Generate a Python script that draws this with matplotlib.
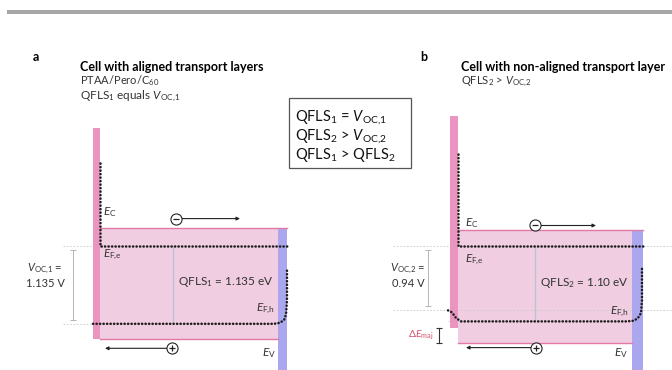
import matplotlib
matplotlib.use("Agg")
import matplotlib.pyplot as plt
from matplotlib.patches import Rectangle

plt.rcParams['font.family'] = ['Lato', 'DejaVu Sans']
plt.rcParams['mathtext.fontset'] = 'custom'
plt.rcParams['mathtext.rm'] = 'Lato'
plt.rcParams['mathtext.it'] = 'Lato:italic'
plt.rcParams['mathtext.bf'] = 'Lato:bold'

W, H = 672, 370
PX_PER_EV = 69.0      # vertical scale of the band diagrams
EFE_PX = 245.5        # pixel row of the electron quasi-Fermi level

# energies in eV, relative to the electron quasi-Fermi level E_F,e
# panel a: PTAA/Pero/C60 (aligned)
a_htl_x = [93, 100]
a_pero_x = [100, 278]
a_etl_x = [278, 287]
a_htl_top, a_htl_bot = 1.71, -1.36
a_ec, a_ev = 0.26, -1.36
a_etl_bot = -1.80
a_qfls = 1.135
a_voc = 1.135
a_efe_x = [100, 100, 287]
a_efe_e = [1.20, 0.0, 0.0]
a_efh_x = [93, 274, 280, 284, 286, 287, 287]
a_efh_e = [-1.135, -1.135, -1.12, -1.08, -1.00, -0.80, -0.35]

# panel b: non-aligned transport layer
b_htl_x = [450, 458]
b_pero_x = [458, 632]
b_etl_x = [632, 643]
b_htl_top, b_htl_bot = 1.88, -1.20
b_ec, b_ev = 0.22, -1.41
b_etl_bot = -1.80
b_qfls = 1.10
b_voc = 0.94
b_efe_x = [458, 458, 643]
b_efe_e = [1.33, 0.0, 0.0]
b_efh_x = [448, 452, 456, 461, 627, 634, 638, 641, 642, 642]
b_efh_e = [-0.94, -0.97, -1.05, -1.10, -1.10, -1.09, -1.05, -0.98, -0.80, -0.33]

box_lines = [r'QFLS$_1$ = $V_{\rm OC{,}1}$',
             r'QFLS$_2$ > $V_{\rm OC{,}2}$',
             r'QFLS$_1$ > QFLS$_2$']

HTL_C = '#ea95bf'
PERO_C = '#f0cde0'
BAND_C = '#e27aa9'
ETL_C = '#aaa7ee'
DOT = dict(color='#1c1c1c', lw=1.8, linestyle=(0, (0.1, 1.3)),
           dash_capstyle='round', solid_capstyle='round')
GREY = '#c8c8c8'


def fx(x):
    return x / W


def fy(y):
    return 1 - y / H


fig = plt.figure(figsize=(W / 100, H / 100), dpi=100)
ax = fig.add_axes([0, 0, 1, 1])
ax.set_xlim(0, W)
ax.set_ylim((EFE_PX - H) / PX_PER_EV, EFE_PX / PX_PER_EV)
ax.axis('off')

# header bar
fig.add_artist(Rectangle((fx(7), fy(14)), fx(W - 7), 4 / H,
                         transform=fig.transFigure, color='#a6a6a6', lw=0))


def draw_cell(htl_x, pero_x, etl_x, htl_top, htl_bot, ec, ev, etl_bot,
              efe_x, efe_e, efh_x, efh_e, qfls, voc, ref_x0, ref_x1, voc_x, qfls_x):
    # layers
    ax.add_patch(Rectangle((pero_x[0], ev), pero_x[1] - pero_x[0], ec - ev,
                           color=PERO_C, lw=0, zorder=1))
    ax.add_patch(Rectangle((htl_x[0], htl_bot), htl_x[1] - htl_x[0], htl_top - htl_bot,
                           color=HTL_C, lw=0, zorder=2))
    ax.add_patch(Rectangle((etl_x[0], etl_bot), etl_x[1] - etl_x[0], ec - etl_bot,
                           color=ETL_C, lw=0, zorder=2))
    ax.plot([pero_x[0], etl_x[1]], [ec, ec], color=BAND_C, lw=1.0, zorder=3)
    ax.plot([pero_x[0], etl_x[0]], [ev, ev], color=BAND_C, lw=1.0, zorder=3)

    # reference lines
    ax.hlines([0, -voc], ref_x0, ref_x1, colors=GREY, lw=0.6,
              linestyles=(0, (2, 2)), zorder=1)
    ax.plot([voc_x, voc_x], [-0.06, -voc + 0.06], color='#b5b5b5', lw=0.7,
            marker='_', ms=4, mew=0.7, zorder=3)
    ax.plot([qfls_x, qfls_x], [0, -qfls], color='#b9c3d8', lw=0.9, zorder=3)

    # quasi-Fermi levels
    ax.plot(efe_x, efe_e, zorder=5, **DOT)
    ax.plot(efh_x, efh_e, zorder=5, **DOT)


def carriers(x_e, e_e, x_e_end, x_h, e_h, x_h_end):
    ax.annotate('', xy=(x_e_end, e_e), xytext=(x_e + 5, e_e),
                arrowprops=dict(arrowstyle='-|>', color='#222', lw=0.8,
                                mutation_scale=5, shrinkA=0, shrinkB=0), zorder=6)
    ax.annotate('', xy=(x_h_end, e_h), xytext=(x_h - 5, e_h),
                arrowprops=dict(arrowstyle='-|>', color='#222', lw=0.8,
                                mutation_scale=5, shrinkA=0, shrinkB=0), zorder=6)
    ax.plot([x_e, x_h], [e_e, e_h], 'o', ms=8, mfc='white', mec='#222', mew=0.8, zorder=7)
    ax.plot([x_e], [e_e], marker='_', ms=4.5, mec='#222', mew=0.9, zorder=8)
    ax.plot([x_h], [e_h], marker='+', ms=4.5, mec='#222', mew=0.9, zorder=8)


draw_cell(a_htl_x, a_pero_x, a_etl_x, a_htl_top, a_htl_bot, a_ec, a_ev, a_etl_bot,
          a_efe_x, a_efe_e, a_efh_x, a_efh_e, a_qfls, a_voc, 63, 100, 73, 173)
draw_cell(b_htl_x, b_pero_x, b_etl_x, b_htl_top, b_htl_bot, b_ec, b_ev, b_etl_bot,
          b_efe_x, b_efe_e, b_efh_x, b_efh_e, b_qfls, b_voc, 393, 672, 428, 535)
ax.hlines(-b_qfls, 448, 461, colors=GREY, lw=0.6, linestyles=(0, (2, 2)), zorder=1)
carriers(176, 0.39, 240, 172, -1.49, 105)
carriers(535, 0.29, 596, 536, -1.48, 466)

# band offset bracket in panel b
ax.plot([439, 439], [b_htl_bot, b_ev], color='#333', lw=0.8, marker='_', ms=4, mew=0.8)
ax.text(434, (b_htl_bot + b_ev) / 2, r'$\Delta E_{\rm maj}$', color='#d5506e',
        fontsize=7.5, ha='right', va='center')

# labels panel a
lab = dict(fontsize=8.5, color='#333')
ax.text(103, 0.48, r'$E_{\rm C}$', ha='left', va='center', **lab)
ax.text(103, -0.14, r'$E_{\rm F{,}e}$', ha='left', va='center', **lab)
ax.text(275, -0.92, r'$E_{\rm F{,}h}$', ha='right', va='center', **lab)
ax.text(262, -1.56, r'$E_{\rm V}$', ha='left', va='center', **lab)
ax.text(178, -0.53, r'QFLS$_1$ = 1.135 eV', ha='left', va='center', **lab)
ax.text(45, -0.43, '$V_{\\rm OC{,}1}$ =\n1.135 V', ha='center', va='center',
        linespacing=1.3, fontsize=8, color='#333')

# labels panel b
ax.text(465, 0.32, r'$E_{\rm C}$', ha='left', va='center', **lab)
ax.text(465, -0.20, r'$E_{\rm F{,}e}$', ha='left', va='center', **lab)
ax.text(629, -0.96, r'$E_{\rm F{,}h}$', ha='right', va='center', **lab)
ax.text(614, -1.56, r'$E_{\rm V}$', ha='left', va='center', **lab)
ax.text(540, -0.54, r'QFLS$_2$ = 1.10 eV', ha='left', va='center', **lab)
ax.text(408, -0.43, '$V_{\\rm OC{,}2}$ =\n0.94 V', ha='center', va='center',
        linespacing=1.3, fontsize=8, color='#333')

# panel letters and titles
fig.text(fx(33), fy(57), 'a', fontsize=9, fontweight='bold', va='center')
fig.text(fx(420), fy(57), 'b', fontsize=9, fontweight='bold', va='center')
fig.text(fx(80), fy(67), 'Cell with aligned transport layers', fontsize=9,
         fontweight='bold', va='center')
fig.text(fx(80), fy(81), r'PTAA/Pero/C$_{60}$', fontsize=8, color='#333', va='center')
fig.text(fx(80), fy(96), r'QFLS$_1$ equals $V_{\rm OC{,}1}$', fontsize=8.5, color='#333',
         va='center')
fig.text(fx(461), fy(67), 'Cell with non-aligned transport layer', fontsize=9,
         fontweight='bold', va='center')
fig.text(fx(461), fy(82), r'QFLS$_2$ > $V_{\rm OC{,}2}$', fontsize=8, color='#333',
         va='center')

# summary box
fig.add_artist(Rectangle((fx(289), fy(168)), fx(411 - 289), 70 / H,
                         transform=fig.transFigure, fill=False, ec='#555', lw=0.9))
for i, line in enumerate(box_lines):
    fig.text(fx(295), fy(117 + 19 * i), line, fontsize=10.5, va='center', color='#111')

fig.savefig('out.png', dpi=100)
